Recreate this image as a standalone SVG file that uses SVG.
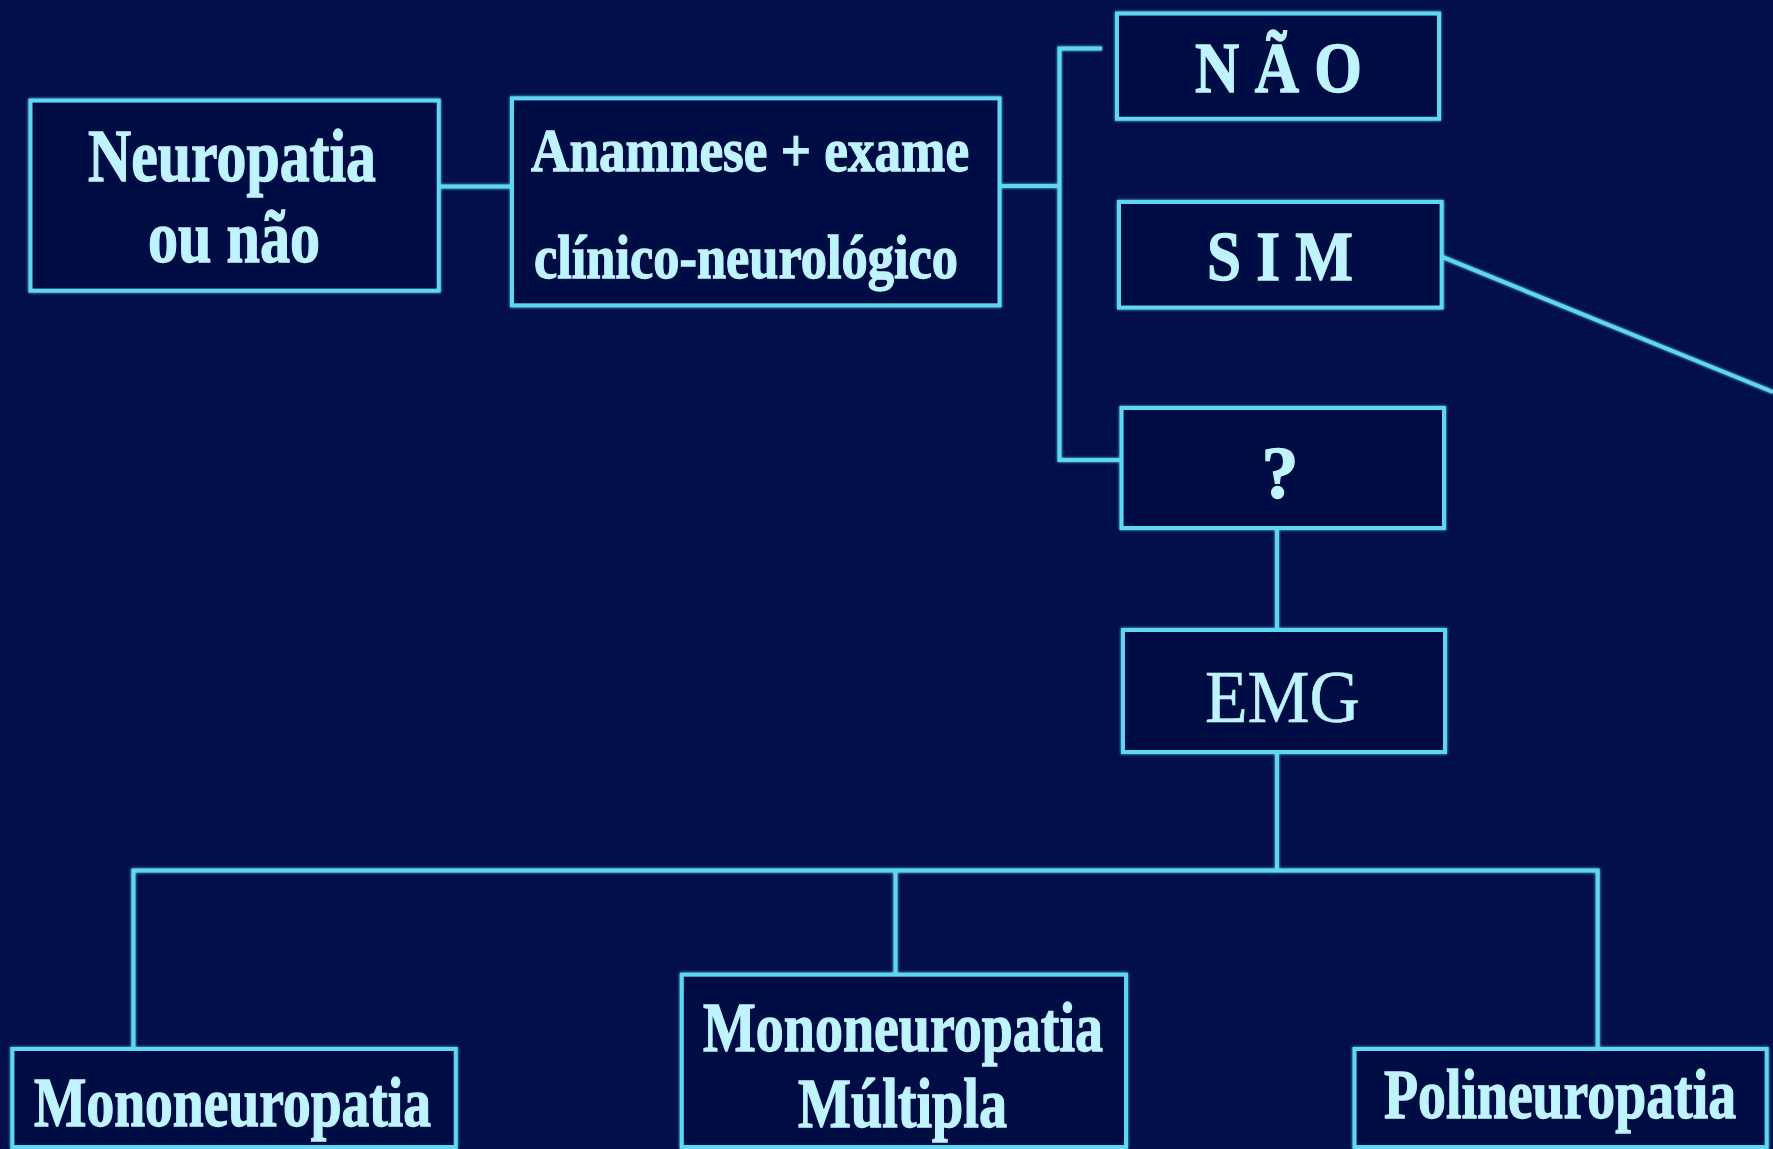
<svg xmlns="http://www.w3.org/2000/svg" width="1773" height="1149" viewBox="0 0 1773 1149">
<defs>
<filter id="glow" x="-5%" y="-5%" width="110%" height="110%">
<feGaussianBlur in="SourceGraphic" stdDeviation="1.6" result="b"/>
<feMerge><feMergeNode in="b"/><feMergeNode in="SourceGraphic"/></feMerge>
</filter>
</defs>
<style>
.box{fill:#030d45;stroke:#5fd6f2;stroke-width:4}
.ln{fill:none;stroke:#5fd6f2;stroke-width:4}
.t{font-family:"Liberation Serif","Times New Roman",serif;font-weight:bold;fill:#bff4ff;stroke:#bff4ff;stroke-width:1.3;text-anchor:start}
.r{font-weight:normal;stroke-width:0.6}
</style>
<rect x="0" y="0" width="1773" height="1149" fill="#030f48"/>
<g id="connectors" filter="url(#glow)">
<path class="ln" d="M438.7 186.6 H512"/>
<path class="ln" d="M999.5 186 H1059.5"/>
<path class="ln" d="M1102 48.6 H1059.5 V460 H1121.6"/>
<path class="ln" d="M1441.6 256.7 L1773 392"/>
<path class="ln" d="M1277 528 V630"/>
<path class="ln" d="M1277 752 V870.6"/>
<path class="ln" d="M133.4 1049 V870.6 H1597.7 V1049"/>
<path class="ln" d="M895.5 870.6 V974.7"/>
</g>
<g id="n-neuropatia" filter="url(#glow)">
<rect class="box" x="30.5" y="100.6" width="408.2" height="190"/>
<text class="t" x="88" y="181" font-size="73" textLength="288" lengthAdjust="spacingAndGlyphs">Neuropatia</text>
<text class="t" x="148" y="262" font-size="73" textLength="172" lengthAdjust="spacingAndGlyphs">ou não</text>
</g>
<g id="n-anamnese" filter="url(#glow)">
<rect class="box" x="512" y="98.4" width="487.5" height="206.9"/>
<text class="t" x="531" y="171" font-size="62" textLength="438" lengthAdjust="spacingAndGlyphs">Anamnese + exame</text>
<text class="t" x="534" y="278" font-size="62" textLength="424" lengthAdjust="spacingAndGlyphs">clínico-neurológico</text>
</g>
<g id="n-nao" filter="url(#glow)">
<rect class="box" x="1117" y="13.6" width="322" height="105.1"/>
<text class="t" x="1195" y="92" font-size="72" textLength="167" lengthAdjust="spacingAndGlyphs">N Ã O</text>
</g>
<g id="n-sim" filter="url(#glow)">
<rect class="box" x="1119" y="202" width="322.6" height="105.5"/>
<text class="t" x="1207" y="280" font-size="70" textLength="146" lengthAdjust="spacingAndGlyphs">S I M</text>
</g>
<g id="n-q" filter="url(#glow)">
<rect class="box" x="1121.6" y="408" width="322.4" height="120"/>
<text class="t" x="1280" y="498" font-size="74" style="text-anchor:middle">?</text>
</g>
<g id="n-emg" filter="url(#glow)">
<rect class="box" x="1123" y="630" width="322" height="122"/>
<text class="t r" x="1205" y="722" font-size="75" textLength="155" lengthAdjust="spacingAndGlyphs">EMG</text>
</g>
<g id="n-mono" filter="url(#glow)">
<rect class="box" x="12.4" y="1049" width="443.3" height="98"/>
<text class="t" x="34" y="1126" font-size="69" textLength="397" lengthAdjust="spacingAndGlyphs">Mononeuropatia</text>
</g>
<g id="n-multipla" filter="url(#glow)">
<rect class="box" x="681.8" y="974.7" width="444.2" height="172.3"/>
<text class="t" x="703" y="1051" font-size="69" textLength="400" lengthAdjust="spacingAndGlyphs">Mononeuropatia</text>
<text class="t" x="798" y="1127" font-size="69" textLength="209" lengthAdjust="spacingAndGlyphs">Múltipla</text>
</g>
<g id="n-poli" filter="url(#glow)">
<rect class="box" x="1354.6" y="1049" width="412" height="98"/>
<text class="t" x="1384" y="1118" font-size="69" textLength="352" lengthAdjust="spacingAndGlyphs">Polineuropatia</text>
</g>
</svg>
